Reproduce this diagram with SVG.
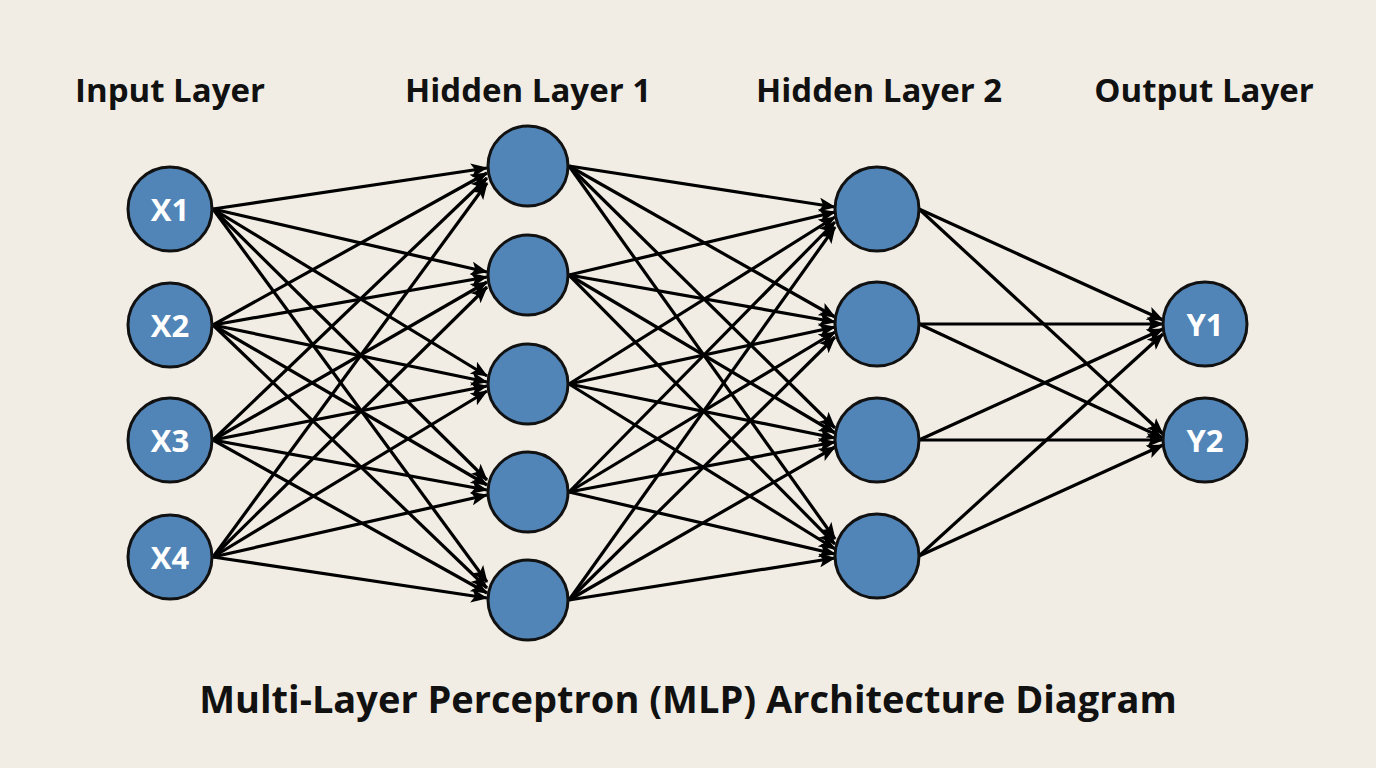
<svg xmlns="http://www.w3.org/2000/svg" width="1376" height="768" viewBox="0 0 1376 768">
<style>
.bg{fill:#f1ede4}
.n{fill:#5185b8;stroke:#111;stroke-width:3}
.lbl{font-family:"Open Sans","Liberation Sans",sans-serif;font-weight:700;fill:#fff;font-size:31px;text-anchor:middle;dominant-baseline:central}
.hdr{font-family:"Open Sans","Liberation Sans",sans-serif;font-weight:700;fill:#111;font-size:33px;text-anchor:middle}
.ttl{font-family:"Open Sans","Liberation Sans",sans-serif;font-weight:700;fill:#111;font-size:38px;text-anchor:middle}
.e{stroke:#000;stroke-width:3.2;fill:none;marker-end:url(#ah)}
</style>
<defs>
<marker id="ah" markerUnits="userSpaceOnUse" markerWidth="18" markerHeight="14" refX="16" refY="7" orient="auto">
<path d="M0,0 L17,7 L0,14 L4,7 Z" fill="#000"/>
</marker>
</defs>
<rect class="bg" x="0" y="0" width="1376" height="768"/>
<g id="headers">
<text class="hdr" x="170" y="102">Input Layer</text>
<text class="hdr" x="528" y="102">Hidden Layer 1</text>
<text class="hdr" x="879" y="102">Hidden Layer 2</text>
<text class="hdr" x="1204" y="102">Output Layer</text>
</g>
<g id="connectors">
<line class="e" x1="213" y1="209" x2="487" y2="168"/>
<line class="e" x1="213" y1="209" x2="487" y2="272"/>
<line class="e" x1="213" y1="209" x2="487" y2="376"/>
<line class="e" x1="213" y1="209" x2="487" y2="480"/>
<line class="e" x1="213" y1="209" x2="487" y2="582"/>
<line class="e" x1="213" y1="325" x2="487" y2="173"/>
<line class="e" x1="213" y1="325" x2="487" y2="277"/>
<line class="e" x1="213" y1="325" x2="487" y2="382"/>
<line class="e" x1="213" y1="325" x2="487" y2="485"/>
<line class="e" x1="213" y1="325" x2="487" y2="588"/>
<line class="e" x1="213" y1="440" x2="487" y2="178"/>
<line class="e" x1="213" y1="440" x2="487" y2="282"/>
<line class="e" x1="213" y1="440" x2="487" y2="386"/>
<line class="e" x1="213" y1="440" x2="487" y2="490"/>
<line class="e" x1="213" y1="440" x2="487" y2="593"/>
<line class="e" x1="213" y1="557" x2="487" y2="183"/>
<line class="e" x1="213" y1="557" x2="487" y2="287"/>
<line class="e" x1="213" y1="557" x2="487" y2="391"/>
<line class="e" x1="213" y1="557" x2="487" y2="495"/>
<line class="e" x1="213" y1="557" x2="487" y2="598"/>
<line class="e" x1="569" y1="166" x2="835" y2="207"/>
<line class="e" x1="569" y1="166" x2="835" y2="317"/>
<line class="e" x1="569" y1="166" x2="835" y2="428"/>
<line class="e" x1="569" y1="166" x2="835" y2="539"/>
<line class="e" x1="569" y1="275" x2="835" y2="212"/>
<line class="e" x1="569" y1="275" x2="835" y2="322"/>
<line class="e" x1="569" y1="275" x2="835" y2="433"/>
<line class="e" x1="569" y1="275" x2="835" y2="544"/>
<line class="e" x1="569" y1="384" x2="835" y2="217"/>
<line class="e" x1="569" y1="384" x2="835" y2="327"/>
<line class="e" x1="569" y1="384" x2="835" y2="438"/>
<line class="e" x1="569" y1="384" x2="835" y2="549"/>
<line class="e" x1="569" y1="492" x2="835" y2="222"/>
<line class="e" x1="569" y1="492" x2="835" y2="332"/>
<line class="e" x1="569" y1="492" x2="835" y2="442"/>
<line class="e" x1="569" y1="492" x2="835" y2="554"/>
<line class="e" x1="569" y1="600" x2="835" y2="227"/>
<line class="e" x1="569" y1="600" x2="835" y2="337"/>
<line class="e" x1="569" y1="600" x2="835" y2="447"/>
<line class="e" x1="569" y1="600" x2="835" y2="558"/>
<line class="e" x1="919" y1="209" x2="1163" y2="320"/>
<line class="e" x1="919" y1="209" x2="1163" y2="434"/>
<line class="e" x1="919" y1="324" x2="1163" y2="324"/>
<line class="e" x1="919" y1="324" x2="1163" y2="438"/>
<line class="e" x1="919" y1="440" x2="1163" y2="329"/>
<line class="e" x1="919" y1="440" x2="1163" y2="440"/>
<line class="e" x1="919" y1="556" x2="1163" y2="334"/>
<line class="e" x1="919" y1="556" x2="1163" y2="445"/>
</g>
<g id="x1"><circle class="n" cx="170" cy="209" r="42"/><text class="lbl" x="170" y="209">X1</text></g>
<g id="x2"><circle class="n" cx="170" cy="325" r="42"/><text class="lbl" x="170" y="325">X2</text></g>
<g id="x3"><circle class="n" cx="170" cy="440" r="42"/><text class="lbl" x="170" y="440">X3</text></g>
<g id="x4"><circle class="n" cx="170" cy="557" r="42"/><text class="lbl" x="170" y="557">X4</text></g>
<g id="h1a"><circle class="n" cx="528" cy="166" r="40"/></g>
<g id="h1b"><circle class="n" cx="528" cy="275" r="40"/></g>
<g id="h1c"><circle class="n" cx="528" cy="384" r="40"/></g>
<g id="h1d"><circle class="n" cx="528" cy="492" r="40"/></g>
<g id="h1e"><circle class="n" cx="528" cy="600" r="40"/></g>
<g id="h2a"><circle class="n" cx="877" cy="209" r="42"/></g>
<g id="h2b"><circle class="n" cx="877" cy="324" r="42"/></g>
<g id="h2c"><circle class="n" cx="877" cy="440" r="42"/></g>
<g id="h2d"><circle class="n" cx="877" cy="556" r="42"/></g>
<g id="y1"><circle class="n" cx="1205" cy="324" r="42"/><text class="lbl" x="1205" y="324">Y1</text></g>
<g id="y2"><circle class="n" cx="1205" cy="440" r="42"/><text class="lbl" x="1205" y="440">Y2</text></g>
<g id="title"><text class="ttl" x="688" y="713">Multi-Layer Perceptron (MLP) Architecture Diagram</text></g>
</svg>
